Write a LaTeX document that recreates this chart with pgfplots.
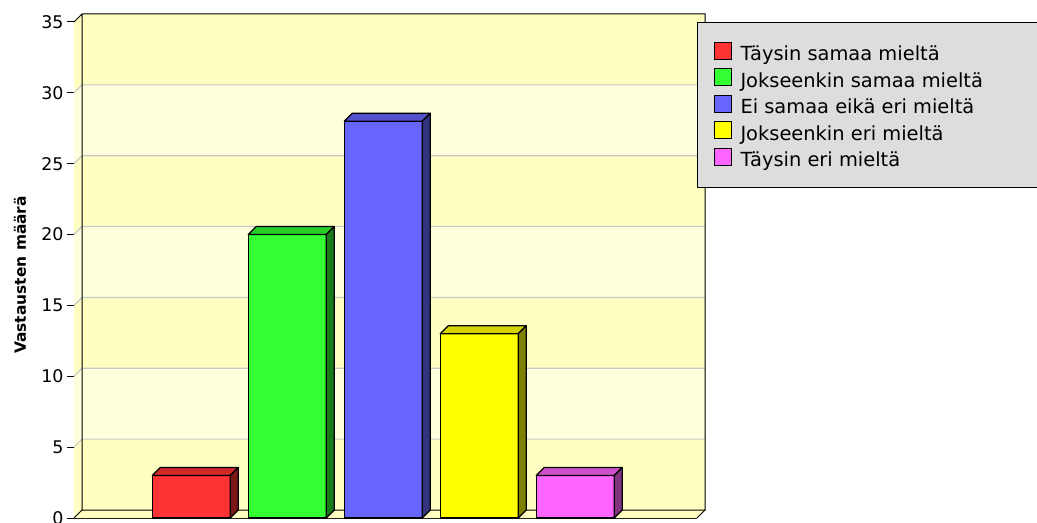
\documentclass[border=0pt]{standalone}
\usepackage{pgfplots}
\pgfplotsset{compat=1.18}
\usepackage{fontspec}
\setmainfont{DejaVu Sans}
\definecolor{wallA}{RGB}{255,255,194}
\definecolor{wallB}{RGB}{255,255,222}
\definecolor{gridc}{RGB}{200,200,200}
\definecolor{legbg}{RGB}{221,221,221}
\definecolor{c1}{RGB}{255,51,51}\definecolor{c1t}{RGB}{210,40,40}\definecolor{c1s}{RGB}{122,24,24}
\definecolor{c2}{RGB}{51,255,51}\definecolor{c2t}{RGB}{41,204,41}\definecolor{c2s}{RGB}{25,122,25}
\definecolor{c3}{RGB}{102,102,255}\definecolor{c3t}{RGB}{82,82,204}\definecolor{c3s}{RGB}{51,51,128}
\definecolor{c4}{RGB}{255,255,0}\definecolor{c4t}{RGB}{212,212,0}\definecolor{c4s}{RGB}{128,128,0}
\definecolor{c5}{RGB}{255,102,255}\definecolor{c5t}{RGB}{204,82,204}\definecolor{c5s}{RGB}{128,51,128}
\pgfplotsset{
  sq legend/.style={legend image code/.code={\draw[##1, line width=1bp] (0bp,-5.3bp) rectangle (17bp,11.7bp);}},
  mybar/.style={ybar, bar width=78bp, bar shift=0pt, draw=black, line width=1.2bp, sq legend},
  face/.style={draw=black, line width=1.2bp, mark=none, forget plot, line join=round},
}
\newcommand{\lent}[1]{\addlegendentry{\makebox[281bp][l]{\rule[-5bp]{0pt}{20bp}#1}}}
\begin{document}
\begin{tikzpicture}
\useasboundingbox (0,0) rectangle (1037bp,523bp);
\begin{axis}[
  at={(74bp,5bp)}, anchor=south west,
  scale only axis, width=623bp, height=496bp,
  xmin=-0.222, xmax=6.269, ymin=0, ymax=35,
  clip=false,
  axis x line=bottom, axis y line=left,
  axis line style={-, line width=1bp, black},
  xtick=\empty,
  ytick={0,5,...,35},
  tick align=outside, major tick length=7bp,
  tick style={line width=1bp, black},
  yticklabel style={font=\fontsize{17.5}{20}\selectfont},
  /pgf/number format/assume math mode=true,
  ylabel={Vastausten määrä},
  ylabel style={at={(axis description cs:-0.0867,0.49)}, anchor=center, font=\bfseries\fontsize{15.5}{18}\selectfont},
  legend style={at={(axis description cs:1,1)}, anchor=north west, draw=black, line width=1bp, fill=legbg,
    inner xsep=16bp, inner ysep=19.5bp, row sep=6bp, column sep=9bp,
    font=\fontsize{19.5}{22}\selectfont, nodes={inner sep=0pt}},
  legend cell align=left,
]
% walls: back wall + left wall bands
\fill[wallA] (axis cs:-0.222,0) -- (axis cs:-0.1386,0.5645) -- (axis cs:6.3524,0.5645) -- (axis cs:6.3524,5.5645) -- (axis cs:-0.1386,5.5645) -- (axis cs:-0.222,5) -- cycle;
\fill[wallB] (axis cs:-0.222,5) -- (axis cs:-0.1386,5.5645) -- (axis cs:6.3524,5.5645) -- (axis cs:6.3524,10.5645) -- (axis cs:-0.1386,10.5645) -- (axis cs:-0.222,10) -- cycle;
\fill[wallA] (axis cs:-0.222,10) -- (axis cs:-0.1386,10.5645) -- (axis cs:6.3524,10.5645) -- (axis cs:6.3524,15.5645) -- (axis cs:-0.1386,15.5645) -- (axis cs:-0.222,15) -- cycle;
\fill[wallB] (axis cs:-0.222,15) -- (axis cs:-0.1386,15.5645) -- (axis cs:6.3524,15.5645) -- (axis cs:6.3524,20.5645) -- (axis cs:-0.1386,20.5645) -- (axis cs:-0.222,20) -- cycle;
\fill[wallA] (axis cs:-0.222,20) -- (axis cs:-0.1386,20.5645) -- (axis cs:6.3524,20.5645) -- (axis cs:6.3524,25.5645) -- (axis cs:-0.1386,25.5645) -- (axis cs:-0.222,25) -- cycle;
\fill[wallB] (axis cs:-0.222,25) -- (axis cs:-0.1386,25.5645) -- (axis cs:6.3524,25.5645) -- (axis cs:6.3524,30.5645) -- (axis cs:-0.1386,30.5645) -- (axis cs:-0.222,30) -- cycle;
\fill[wallA] (axis cs:-0.222,30) -- (axis cs:-0.1386,30.5645) -- (axis cs:6.3524,30.5645) -- (axis cs:6.3524,35.5645) -- (axis cs:-0.1386,35.5645) -- (axis cs:-0.222,35) -- cycle;
% floor
\fill[wallA] (axis cs:-0.222,0) -- (axis cs:6.269,0) -- (axis cs:6.3524,0.5645) -- (axis cs:-0.1386,0.5645) -- cycle;
% grid lines
\draw[gridc, line width=1.2bp] (axis cs:-0.222,5) -- (axis cs:-0.1386,5.5645) -- (axis cs:6.3524,5.5645);
\draw[gridc, line width=1.2bp] (axis cs:-0.222,10) -- (axis cs:-0.1386,10.5645) -- (axis cs:6.3524,10.5645);
\draw[gridc, line width=1.2bp] (axis cs:-0.222,15) -- (axis cs:-0.1386,15.5645) -- (axis cs:6.3524,15.5645);
\draw[gridc, line width=1.2bp] (axis cs:-0.222,20) -- (axis cs:-0.1386,20.5645) -- (axis cs:6.3524,20.5645);
\draw[gridc, line width=1.2bp] (axis cs:-0.222,25) -- (axis cs:-0.1386,25.5645) -- (axis cs:6.3524,25.5645);
\draw[gridc, line width=1.2bp] (axis cs:-0.222,30) -- (axis cs:-0.1386,30.5645) -- (axis cs:6.3524,30.5645);
% box edges
\draw[black, line width=1bp] (axis cs:-0.222,35) -- (axis cs:-0.1386,35.5645) -- (axis cs:6.3524,35.5645) -- (axis cs:6.3524,0.5645) -- (axis cs:-0.1386,0.5645) -- (axis cs:-0.1386,35.5645);
\draw[black, line width=1bp] (axis cs:-0.222,0) -- (axis cs:-0.1386,0.5645);
\draw[black, line width=1bp] (axis cs:6.269,0) -- (axis cs:6.3524,0.5645);

% bars
\addplot[mybar, fill=c1] coordinates {(1,3)};
\lent{Täysin samaa mieltä}
\addplot[face, fill=c1t] coordinates {(0.5937,3) (1.4063,3) (1.4897,3.5645) (0.6771,3.5645)} -- cycle;
\addplot[face, fill=c1s] coordinates {(1.4063,0) (1.4897,0.5645) (1.4897,3.5645) (1.4063,3)} -- cycle;

\addplot[mybar, fill=c2] coordinates {(2,20)};
\lent{Jokseenkin samaa mieltä}
\addplot[face, fill=c2t] coordinates {(1.5937,20) (2.4063,20) (2.4897,20.5645) (1.6771,20.5645)} -- cycle;
\addplot[face, fill=c2s] coordinates {(2.4063,0) (2.4897,0.5645) (2.4897,20.5645) (2.4063,20)} -- cycle;

\addplot[mybar, fill=c3] coordinates {(3,28)};
\lent{Ei samaa eikä eri mieltä}
\addplot[face, fill=c3t] coordinates {(2.5937,28) (3.4063,28) (3.4897,28.5645) (2.6771,28.5645)} -- cycle;
\addplot[face, fill=c3s] coordinates {(3.4063,0) (3.4897,0.5645) (3.4897,28.5645) (3.4063,28)} -- cycle;

\addplot[mybar, fill=c4] coordinates {(4,13)};
\lent{Jokseenkin eri mieltä}
\addplot[face, fill=c4t] coordinates {(3.5937,13) (4.4063,13) (4.4897,13.5645) (3.6771,13.5645)} -- cycle;
\addplot[face, fill=c4s] coordinates {(4.4063,0) (4.4897,0.5645) (4.4897,13.5645) (4.4063,13)} -- cycle;

\addplot[mybar, fill=c5] coordinates {(5,3)};
\lent{Täysin eri mieltä}
\addplot[face, fill=c5t] coordinates {(4.5937,3) (5.4063,3) (5.4897,3.5645) (4.6771,3.5645)} -- cycle;
\addplot[face, fill=c5s] coordinates {(5.4063,0) (5.4897,0.5645) (5.4897,3.5645) (5.4063,3)} -- cycle;
\end{axis}
\end{tikzpicture}
\end{document}
